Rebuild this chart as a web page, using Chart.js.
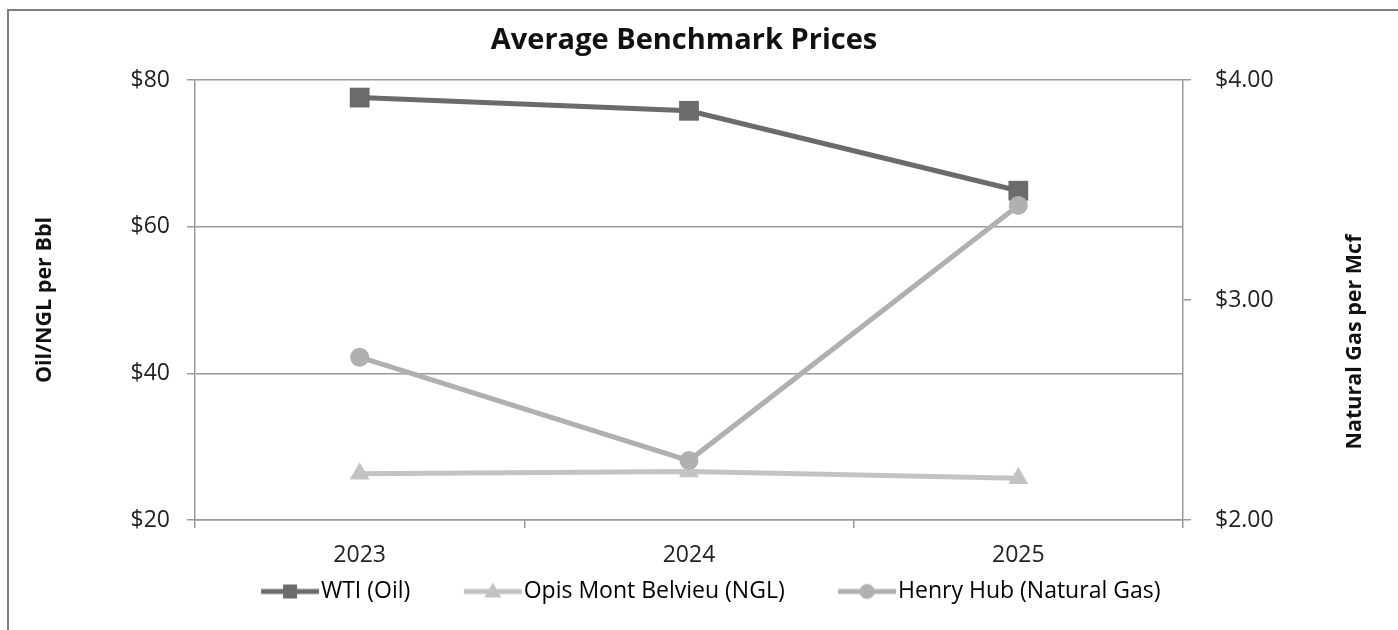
<!DOCTYPE html>
<html><head><meta charset="utf-8">
<script src="https://cdn.jsdelivr.net/npm/chart.js@4.4.1/dist/chart.umd.min.js"></script>
<style>
html,body{margin:0;padding:0;background:#fff;width:1398px;height:630px;overflow:hidden;}
#frame{position:absolute;left:7px;top:9px;width:1391px;height:621px;border-top:2px solid #7f7f7f;border-left:2px solid #7f7f7f;box-sizing:border-box;}
#c{position:absolute;left:0;top:0;}
</style></head><body>
<div id="frame"></div>
<canvas id="c" width="1398" height="630"></canvas>
<script>
// ---- data ----
const categories = ['2023', '2024', '2025'];
const wtiOil = [77.6, 75.8, 64.9];
const opisNgl = [26.3, 26.6, 25.7];
const henryHubGas = [2.74, 2.27, 3.43];
const leftTicks = [20, 40, 60, 80];
const rightTicks = [2, 3, 4];
const seriesNames = ['WTI (Oil)', 'Opis Mont Belvieu (NGL)', 'Henry Hub (Natural Gas)'];
const chartTitle = 'Average Benchmark Prices';
const leftAxisTitle = 'Oil/NGL per Bbl';
const rightAxisTitle = 'Natural Gas per Mcf';

// ---- styles ----
const FONT = "'Open Sans', sans-serif";
const colors = ['#6b6b6b', '#c3c3c3', '#b0b0b0'];
const styles = ['rect', 'triangle', 'circle'];
const AXIS = '#9a9a9a';
const RIGHT_PAD = 30;
const AXIS_TITLE_SIZE = 21.5;
const LEG_FONT = 23, LEG_PAD = 0, HALF = LEG_FONT / 2;
const textStarts = [321, 522, 898];

const mctx = document.createElement('canvas').getContext('2d');
mctx.font = LEG_FONT + "px " + FONT;
const wText = seriesNames.map(s => mctx.measureText(s).width);
const spaceW = mctx.measureText(' ').width;
const boxW = Math.max(10, textStarts[0] + textStarts[2] - HALF - (1398 - RIGHT_PAD) + wText[2]);
function padText(i) {
  const target = textStarts[i + 1] - textStarts[i] - LEG_PAD - boxW - HALF;
  const n = Math.max(0, Math.round((target - wText[i]) / spaceW));
  return seriesNames[i] + ' '.repeat(n);
}
function legendSymbol(color, style) {
  const W = Math.round(boxW + 2 * HALF);
  const c = document.createElement('canvas'); c.width = W; c.height = 26;
  const g = c.getContext('2d');
  const a = W - 60, cy = 13, cx = a + 29;
  g.strokeStyle = color; g.lineWidth = 5;
  g.beginPath(); g.moveTo(a, cy); g.lineTo(a + 58, cy); g.stroke();
  g.fillStyle = color;
  if (style === 'rect') g.fillRect(cx - 7, cy - 7, 14, 14);
  else if (style === 'circle') { g.beginPath(); g.arc(cx, cy, 7.5, 0, 2 * Math.PI); g.fill(); }
  else { g.beginPath(); g.moveTo(cx, cy - 9); g.lineTo(cx + 8.5, cy + 6); g.lineTo(cx - 8.5, cy + 6); g.closePath(); g.fill(); }
  return c;
}

const rightTitlePlugin = {
  id: 'rightTitle',
  afterDraw(chart) {
    const s = chart.scales.y2, a = chart.chartArea, ctx = chart.ctx;
    ctx.save();
    ctx.translate(s.right - 13, (a.top + a.bottom) / 2 + 42);
    ctx.rotate(-Math.PI / 2);
    ctx.font = "bold " + AXIS_TITLE_SIZE + "px " + FONT;
    ctx.fillStyle = '#111';
    ctx.textAlign = 'center'; ctx.textBaseline = 'middle';
    ctx.fillText(rightAxisTitle, 0, 0);
    ctx.restore();
  }
};

new Chart(document.getElementById('c'), {
  type: 'line',
  data: {
    labels: categories,
    datasets: [
      { label: seriesNames[0], data: wtiOil, yAxisID: 'y', borderColor: colors[0], backgroundColor: colors[0],
        borderWidth: 5, pointStyle: styles[0], pointRadius: 14, pointBorderWidth: 0, tension: 0, order: 2 },
      { label: seriesNames[1], data: opisNgl, yAxisID: 'y', borderColor: colors[1], backgroundColor: colors[1],
        borderWidth: 5, pointStyle: styles[1], pointRadius: 11.5, pointBorderWidth: 0, tension: 0, order: 1 },
      { label: seriesNames[2], data: henryHubGas, yAxisID: 'y2', borderColor: colors[2], backgroundColor: colors[2],
        borderWidth: 5, pointStyle: styles[2], pointRadius: 9.5, pointBorderWidth: 0, tension: 0, order: 0 }
    ]
  },
  options: {
    responsive: false,
    animation: false,
    devicePixelRatio: 1,
    layout: { padding: { left: 0, right: RIGHT_PAD, top: 0, bottom: 17 } },
    plugins: {
      title: { display: true, text: chartTitle, color: '#111', font: { family: FONT, size: 29, weight: 'bold', lineHeight: 1.2 },
        padding: { top: 23, bottom: 22.2 } },
      legend: {
        position: 'bottom',
        labels: {
          usePointStyle: true, pointStyleWidth: boxW, padding: LEG_PAD, color: '#111',
          font: { family: FONT, size: LEG_FONT },
          generateLabels: (chart) => chart.data.datasets.map((ds, i) => ({
            text: i < 2 ? padText(i) : ds.label,
            pointStyle: legendSymbol(colors[i], styles[i]),
            fillStyle: colors[i], strokeStyle: colors[i], lineWidth: 0, hidden: false, datasetIndex: i
          }))
        }
      },
      tooltip: { enabled: false }
    },
    scales: {
      x: {
        offset: true,
        grid: { drawOnChartArea: false, drawTicks: true, tickLength: 8, color: AXIS, lineWidth: 1.5, offset: true },
        border: { display: true, color: AXIS, width: 1.5 },
        ticks: { color: '#222', font: { family: FONT, size: 23 }, padding: 14 },
        afterFit: s => { s.height = 60; }
      },
      y: {
        position: 'left', min: 20, max: 80,
        afterBuildTicks: s => { s.ticks = leftTicks.map(v => ({ value: v })); },
        grid: { drawOnChartArea: true, drawTicks: true, tickLength: 8, color: AXIS, lineWidth: 1.5 },
        border: { display: true, color: AXIS, width: 1.5 },
        ticks: { color: '#222', font: { family: FONT, size: 23 }, padding: 17, callback: v => '$' + v },
        title: { display: true, text: leftAxisTitle, color: '#111', font: { family: FONT, size: AXIS_TITLE_SIZE, weight: 'bold', lineHeight: 1.2 },
          padding: { top: 32, bottom: 0 } },
        afterFit: s => { s.width = 195; }
      },
      y2: {
        position: 'right', min: 2, max: 4,
        afterBuildTicks: s => { s.ticks = rightTicks.map(v => ({ value: v })); },
        grid: { drawOnChartArea: false, drawTicks: true, tickLength: 8, color: AXIS, lineWidth: 1.5 },
        border: { display: true, color: AXIS, width: 1.5 },
        ticks: { color: '#222', font: { family: FONT, size: 23 }, padding: 24, callback: v => '$' + Number(v).toFixed(2) },
        afterFit: s => { s.width = 1398 - RIGHT_PAD - 1183; }
      }
    }
  },
  plugins: [rightTitlePlugin]
});
</script>
</body></html>
